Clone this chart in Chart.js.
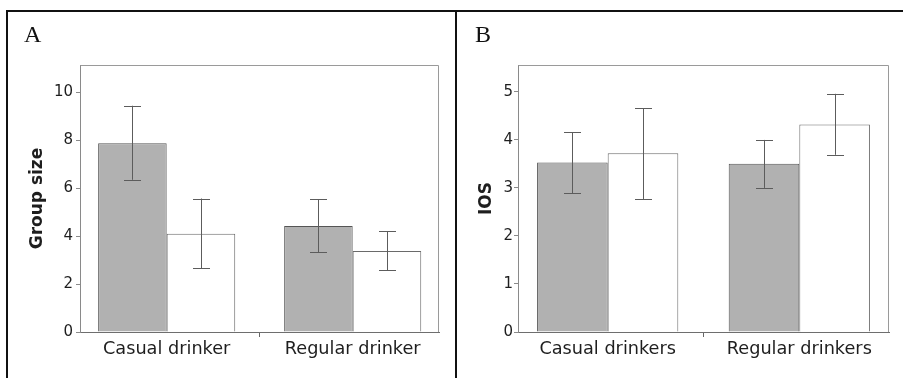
<!DOCTYPE html>
<html><head><meta charset="utf-8">
<script src="https://cdn.jsdelivr.net/npm/chart.js@4.4.1/dist/chart.umd.min.js"></script>
<style>
html,body{margin:0;padding:0;background:#fff;}
#wrap{position:relative;width:903px;height:378px;overflow:hidden;background:#fff;}
.cv{position:absolute;top:0;height:378px;}
.line{position:absolute;background:#111;}
.lab{position:absolute;font-family:"Liberation Serif","Times New Roman",serif;font-size:24px;color:#111;line-height:24px;}
</style></head><body>
<div id="wrap">
  <div class="cv" style="left:0;width:455px;"><canvas id="cA"></canvas></div>
  <div class="cv" style="left:457px;width:446px;"><canvas id="cB"></canvas></div>
  <div class="line" style="left:6px;top:10px;width:897px;height:2px;"></div>
  <div class="line" style="left:6px;top:10px;width:2px;height:368px;"></div>
  <div class="line" style="left:455px;top:10px;width:2px;height:368px;"></div>
  <div class="lab" style="left:24px;top:22px;">A</div>
  <div class="lab" style="left:475px;top:22px;">B</div>
</div>
<script>
// ---- Panel A data ----
const categoriesA = ['Casual drinker', 'Regular drinker'];
const groupSizeGray = [7.88, 4.42];
const groupSizeGrayLow = [6.35, 3.32];
const groupSizeGrayHigh = [9.44, 5.54];
const groupSizeWhite = [4.10, 3.38];
const groupSizeWhiteLow = [2.67, 2.57];
const groupSizeWhiteHigh = [5.57, 4.21];
const yTicksA = [0, 2, 4, 6, 8, 10];
const yMaxA = 11.14;
const xRangeA = [-0.466, 1.464];

// ---- Panel B data ----
const categoriesB = ['Casual drinkers', 'Regular drinkers'];
const iosGray = [3.53, 3.505];
const iosGrayLow = [2.89, 3.00];
const iosGrayHigh = [4.16, 4.00];
const iosWhite = [3.72, 4.32];
const iosWhiteLow = [2.77, 3.69];
const iosWhiteHigh = [4.66, 4.96];
const yTicksB = [0, 1, 2, 3, 4, 5];
const yMaxB = 5.56;
const xRangeB = [-0.468, 1.468];

const FONT = '"DejaVu Sans", sans-serif';
const TXT = '#1e1e1e';

const errorBars = {
  id: 'errorBars',
  afterDatasetsDraw(chart) {
    const ctx = chart.ctx, ys = chart.scales.y;
    chart.data.datasets.forEach((ds, i) => {
      const meta = chart.getDatasetMeta(i);
      meta.data.forEach((el, j) => {
        const x = Math.round(el.x) + 0.5;
        const yl = ys.getPixelForValue(ds.errLow[j]);
        const yh = ys.getPixelForValue(ds.errHigh[j]);
        ctx.save();
        ctx.strokeStyle = '#5c5c5c';
        ctx.lineWidth = 1;
        ctx.beginPath();
        ctx.moveTo(x, yl); ctx.lineTo(x, yh);
        ctx.moveTo(x - 8.5, Math.round(yl) + 0.5); ctx.lineTo(x + 8.5, Math.round(yl) + 0.5);
        ctx.moveTo(x - 8.5, Math.round(yh) + 0.5); ctx.lineTo(x + 8.5, Math.round(yh) + 0.5);
        ctx.stroke();
        ctx.restore();
      });
    });
  }
};

const frame = {
  id: 'frame',
  afterDraw(chart) {
    const {left, right, top} = chart.chartArea;
    const bottom = chart.chartArea.bottom;
    const ctx = chart.ctx;
    ctx.save();
    ctx.strokeStyle = '#9a9a9a';
    ctx.lineWidth = 1;
    ctx.beginPath();
    ctx.moveTo(Math.round(left) + 0.5, Math.round(top) + 0.5);
    ctx.lineTo(Math.round(right) - 0.5, Math.round(top) + 0.5);
    ctx.lineTo(Math.round(right) - 0.5, bottom);
    ctx.stroke();
    ctx.restore();
  }
};

function makeChart(id, cfg) {
  const toPts = arr => arr.map((v, i) => ({x: i, y: v}));
  return new Chart(document.getElementById(id), {
    type: 'bar',
    data: {
      datasets: [
        {data: toPts(cfg.gray), errLow: cfg.grayLow, errHigh: cfg.grayHigh,
         backgroundColor: '#b1b1b1', borderColor: '#555555', borderWidth: 1},
        {data: toPts(cfg.white), errLow: cfg.whiteLow, errHigh: cfg.whiteHigh,
         backgroundColor: '#ffffff', borderColor: '#6a6a6a', borderWidth: 1}
      ]
    },
    options: {
      responsive: true, maintainAspectRatio: false, animation: false,
      devicePixelRatio: 1,
      datasets: {bar: {barPercentage: 1, categoryPercentage: 0.737, grouped: true}},
      layout: {padding: cfg.padding},
      plugins: {legend: {display: false}, tooltip: {enabled: false}},
      scales: {
        x: {
          type: 'linear', min: cfg.xRange[0], max: cfg.xRange[1], offset: false,
          afterBuildTicks: s => { s.ticks = cfg.categories.map((c, i) => ({value: i})); },
          afterFit: s => { s.height = 46; },
          ticks: {callback: v => cfg.categories[v], font: {family: FONT, size: 17.7}, color: TXT,
                  padding: 2, maxRotation: 0, autoSkip: false},
          grid: {display: true, drawOnChartArea: false, drawTicks: true, tickLength: 5, color: '#666'},
          border: {display: true, color: '#6e6e6e', width: 1}
        },
        y: {
          min: 0, max: cfg.yMax,
          afterBuildTicks: s => { s.ticks = cfg.yTicks.map(v => ({value: v})); },
          afterFit: s => { s.width = cfg.yWidth; },
          ticks: {font: {family: FONT, size: 15}, color: TXT, padding: cfg.tickPad, includeBounds: false},
          grid: {display: true, drawOnChartArea: false, drawTicks: true, tickLength: 4, color: '#8a8a8a'},
          border: {display: true, color: '#8a8a8a', width: 1},
          title: {display: true, text: cfg.yTitle, color: TXT,
                  font: {family: FONT, size: 17, weight: 'bold'}, padding: {top: cfg.titlePad, bottom: 0}}
        }
      }
    },
    plugins: [errorBars, frame]
  });
}

makeChart('cA', {
  categories: categoriesA, gray: groupSizeGray, grayLow: groupSizeGrayLow, grayHigh: groupSizeGrayHigh,
  white: groupSizeWhite, whiteLow: groupSizeWhiteLow, whiteHigh: groupSizeWhiteHigh,
  yTicks: yTicksA, yMax: yMaxA, xRange: xRangeA, yTitle: 'Group size',
  padding: {left: 23, top: 65, right: 16, bottom: 0}, yWidth: 57, tickPad: 3, titlePad: 4
});
makeChart('cB', {
  categories: categoriesB, gray: iosGray, grayLow: iosGrayLow, grayHigh: iosGrayHigh,
  white: iosWhite, whiteLow: iosWhiteLow, whiteHigh: iosWhiteHigh,
  yTicks: yTicksB, yMax: yMaxB, xRange: xRangeB, yTitle: 'IOS',
  padding: {left: 15, top: 65, right: 14, bottom: 0}, yWidth: 46, tickPad: 1, titlePad: 4
});
</script>
</body></html>
